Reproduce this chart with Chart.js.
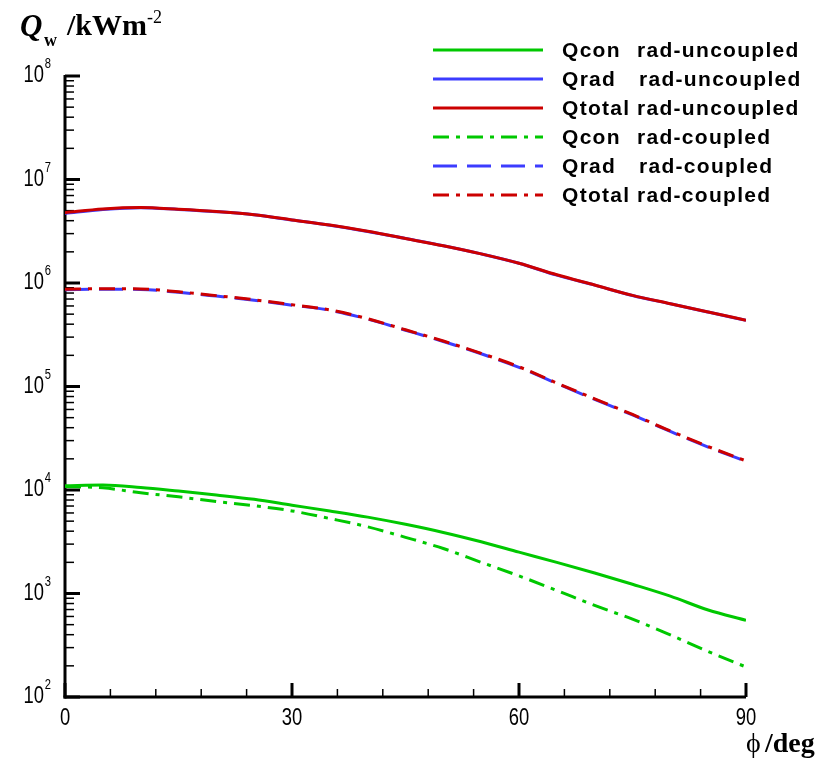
<!DOCTYPE html>
<html>
<head>
<meta charset="utf-8">
<title>Wall heat flux</title>
<script src="https://cdn.jsdelivr.net/npm/chart.js@4.4.0/dist/chart.umd.min.js"></script>
<style>
    html, body { margin: 0; padding: 0; background: #fff; }
    canvas { display: block; }
</style>
</head>
<body>
<canvas id="heatFlux" width="826" height="759"></canvas>
<script>
// angle along the wall, deg
const phi = [0, 5, 10, 15, 20, 25, 30, 35, 40, 45, 50, 55, 60, 65, 70, 75, 80, 85, 90];

// heat flux, kW/m^2 - radiation not coupled with the flow
const qconUncoupled = [1.10e4, 1.12e4, 1.06e4, 9.77e3, 8.95e3, 8.13e3, 7.13e3, 6.27e3, 5.47e3, 4.66e3,
    3.89e3, 3.16e3, 2.51e3, 2.00e3, 1.58e3, 1.23e3, 944, 692, 550];
const qradUncoupled = [4.70e6, 5.12e6, 5.34e6, 5.14e6, 4.89e6, 4.56e6, 4.06e6, 3.62e6, 3.15e6, 2.69e6,
    2.29e6, 1.91e6, 1.55e6, 1.19e6, 9.54e5, 7.58e5, 6.30e5, 5.24e5, 4.36e5];
const qtotalUncoupled = [4.78e6, 5.19e6, 5.35e6, 5.15e6, 4.90e6, 4.57e6, 4.07e6, 3.63e6, 3.16e6, 2.69e6,
    2.29e6, 1.91e6, 1.55e6, 1.20e6, 9.55e5, 7.59e5, 6.31e5, 5.25e5, 4.37e5];

// heat flux, kW/m^2 - radiation coupled
const qconCoupled = [1.08e4, 1.05e4, 9.40e3, 8.59e3, 7.73e3, 7.05e3, 6.28e3, 5.30e3, 4.41e3, 3.49e3,
    2.72e3, 2.00e3, 1.48e3, 1.07e3, 767, 565, 398, 275, 195];
const qradCoupled = [8.60e5, 8.70e5, 8.67e5, 8.13e5, 7.47e5, 6.82e5, 6.11e5, 5.45e5, 4.48e5, 3.50e5,
    2.72e5, 2.07e5, 1.53e5, 1.07e5, 7.51e4, 5.31e4, 3.68e4, 2.60e4, 1.89e4];
const qtotalCoupled = [8.71e5, 8.81e5, 8.77e5, 8.22e5, 7.55e5, 6.89e5, 6.17e5, 5.50e5, 4.52e5, 3.53e5,
    2.75e5, 2.09e5, 1.55e5, 1.08e5, 7.59e4, 5.37e4, 3.72e4, 2.63e4, 1.91e4];

// legend text, two columns
const quantityNames = ['Qcon', 'Qrad', 'Qtotal', 'Qcon', 'Qrad', 'Qtotal'];
const caseNames = ['rad-uncoupled', 'rad-uncoupled', 'rad-uncoupled', 'rad-coupled', 'rad-coupled', 'rad-coupled'];

// axes
const yExponents = [2, 3, 4, 5, 6, 7, 8];
const xTickLabels = [0, 30, 60, 90];
const xMinorStep = 6;

const GREEN = '#00c800';
const BLUE = '#3c3cff';
const RED = '#cc0000';
const DASH_DOT = [16, 7, 4, 7];
const DASHED = [24, 10];

function points(values) {
    return phi.map((p, i) => ({ x: p, y: values[i] }));
}

function makeSet(i, values, color, dash, order) {
    return {
        label: quantityNames[i] + ' ' + caseNames[i],
        data: points(values),
        borderColor: color,
        backgroundColor: color,
        borderWidth: 3,
        borderDash: dash,
        pointRadius: 0,
        cubicInterpolationMode: 'monotone',
        fill: false,
        order: order
    };
}

function stroke(ctx, x1, y1, x2, y2, w) {
    ctx.lineWidth = w;
    ctx.beginPath();
    ctx.moveTo(x1, y1);
    ctx.lineTo(x2, y2);
    ctx.stroke();
}

// axis lines and inward ticks
const axisFrame = {
    id: 'axisFrame',
    beforeDatasetsDraw(chart) {
        const ctx = chart.ctx;
        const xs = chart.scales.x;
        const ys = chart.scales.y;
        const a = chart.chartArea;
        ctx.save();
        ctx.strokeStyle = '#000';
        ctx.lineCap = 'butt';

        const eMin = yExponents[0];
        const eMax = yExponents[yExponents.length - 1];
        for (let e = eMin; e <= eMax; e++) {
            const y = ys.getPixelForValue(Math.pow(10, e));
            stroke(ctx, a.left, y, a.left + 15, y, 3);
            if (e < eMax) {
                for (let m = 2; m <= 9; m++) {
                    const ym = ys.getPixelForValue(m * Math.pow(10, e));
                    stroke(ctx, a.left, ym, a.left + 9, ym, 1.5);
                }
            }
        }

        for (let v = xs.min; v <= xs.max; v += xMinorStep) {
            const x = xs.getPixelForValue(v);
            if (xTickLabels.includes(v)) {
                stroke(ctx, x, a.bottom, x, a.bottom - 14, 3);
            } else {
                stroke(ctx, x, a.bottom, x, a.bottom - 8, 1.5);
            }
        }

        stroke(ctx, a.left, a.top - 1, a.left, a.bottom + 1.5, 3);
        stroke(ctx, a.left - 1.5, a.bottom, a.right, a.bottom, 3);
        ctx.restore();
    },
    afterDraw(chart) {
        const ctx = chart.ctx;
        const xs = chart.scales.x;
        const ys = chart.scales.y;
        ctx.save();
        ctx.fillStyle = '#000';
        ctx.textBaseline = 'alphabetic';

        // 10^n labels, narrow sans
        yExponents.forEach(e => {
            const y = ys.getPixelForValue(Math.pow(10, e));
            ctx.save();
            ctx.translate(44, y + 6);
            ctx.scale(0.8, 1);
            ctx.font = '23px "Liberation Sans", Arial, sans-serif';
            ctx.textAlign = 'right';
            ctx.fillText('10', 0, 0);
            ctx.font = '14px "Liberation Sans", Arial, sans-serif';
            ctx.textAlign = 'left';
            ctx.fillText(String(e), 1, -14);
            ctx.restore();
        });

        xTickLabels.forEach(v => {
            const x = xs.getPixelForValue(v);
            ctx.save();
            ctx.translate(x, 725);
            ctx.scale(0.8, 1);
            ctx.font = '23px "Liberation Sans", Arial, sans-serif';
            ctx.textAlign = 'center';
            ctx.fillText(String(v), 0, 0);
            ctx.restore();
        });

        // axis titles
        ctx.textAlign = 'left';
        ctx.font = 'italic bold 31px "Liberation Serif", "Times New Roman", serif';
        ctx.fillText('Q', 20, 36);
        ctx.font = 'bold 18px "Liberation Serif", "Times New Roman", serif';
        ctx.fillText('w', 44, 46);
        ctx.font = 'bold 30px "Liberation Serif", "Times New Roman", serif';
        ctx.fillText('/kWm', 67, 35);
        ctx.font = '18px "Liberation Serif", "Times New Roman", serif';
        ctx.fillText('-2', 147, 23);

        ctx.font = '28px "Liberation Serif", "Times New Roman", serif';
        ctx.fillText('\u03D5', 746, 752);
        ctx.font = 'bold 28px "Liberation Serif", "Times New Roman", serif';
        ctx.fillText('/deg', 765, 752);
        ctx.restore();
    }
};

// legend: sample line, quantity, case
const sideLegend = {
    id: 'sideLegend',
    afterDraw(chart) {
        const ctx = chart.ctx;
        ctx.save();
        chart.data.datasets.forEach((ds, i) => {
            const y = 50 + i * 29;
            ctx.strokeStyle = ds.borderColor;
            ctx.lineWidth = 3;
            ctx.setLineDash(ds.borderDash || []);
            ctx.beginPath();
            ctx.moveTo(433, y);
            ctx.lineTo(543, y);
            ctx.stroke();
            ctx.setLineDash([]);

            ctx.fillStyle = '#000';
            ctx.font = 'bold 21px "Liberation Sans", Arial, sans-serif';
            ctx.letterSpacing = '1.3px';
            ctx.textBaseline = 'middle';
            ctx.textAlign = 'left';
            ctx.fillText(quantityNames[i], 562, y + 1);
            ctx.fillText(caseNames[i], quantityNames[i] === 'Qrad' ? 639 : 637, y + 1);
        });
        ctx.restore();
    }
};

new Chart(document.getElementById('heatFlux'), {
    type: 'line',
    data: {
        datasets: [
            makeSet(0, qconUncoupled, GREEN, [], 5),
            makeSet(1, qradUncoupled, BLUE, [], 4),
            makeSet(2, qtotalUncoupled, RED, [], 3),
            makeSet(3, qconCoupled, GREEN, DASH_DOT, 2),
            makeSet(4, qradCoupled, BLUE, DASHED, 1),
            makeSet(5, qtotalCoupled, RED, DASH_DOT, 0)
        ]
    },
    options: {
        responsive: false,
        devicePixelRatio: 1,
        animation: false,
        events: [],
        layout: { padding: { left: 65, right: 80, top: 76, bottom: 62 } },
        scales: {
            x: { type: 'linear', min: 0, max: 90, display: false },
            y: { type: 'logarithmic', min: 1e2, max: 1e8, display: false }
        },
        plugins: {
            legend: { display: false },
            tooltip: { enabled: false }
        }
    },
    plugins: [axisFrame, sideLegend]
});
</script>
</body>
</html>
